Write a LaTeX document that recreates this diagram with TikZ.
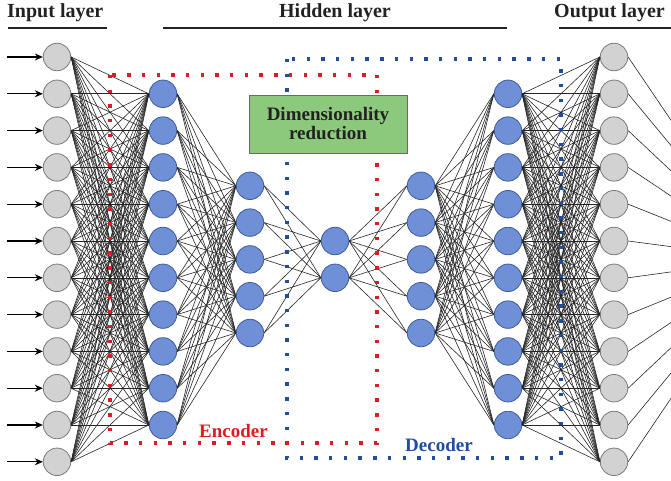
\documentclass[tikz,border=0pt]{standalone}
\usepackage{fontspec}
\setmainfont{Liberation Serif}
\usetikzlibrary{arrows.meta}
\definecolor{nodegray}{HTML}{D2D2D2}
\definecolor{graybd}{HTML}{7A7A7A}
\definecolor{nodeblue}{HTML}{6F8FD6}
\definecolor{bluebd}{HTML}{3E5C9C}
\definecolor{encred}{HTML}{E01A22}
\definecolor{decblue}{HTML}{1F4E9E}
\definecolor{boxgreen}{HTML}{8DC97D}
\definecolor{boxbd}{HTML}{6A6A6A}
\definecolor{titlecol}{HTML}{222222}
\tikzset{
  grayneuron/.style={circle, draw=graybd, fill=nodegray, minimum size=27.5pt, inner sep=0pt, line width=0.8pt},
  blueneuron/.style={circle, draw=bluebd, fill=nodeblue, minimum size=27.5pt, inner sep=0pt, line width=0.8pt},
  conn/.style={line width=0.6pt, draw=black!85},
  inarrow/.style={line width=1.2pt, -{Stealth[length=8pt,width=7pt]}},
  encdots/.style={draw=encred, line width=3.4pt, dash pattern=on 3.4pt off 11.3pt},
  decdots/.style={draw=decblue, line width=3.4pt, dash pattern=on 3.4pt off 11.3pt},
  titletext/.style={font=\fontsize{20}{24}\selectfont\bfseries, text=titlecol, inner sep=0pt, anchor=base west},
  titleline/.style={line width=2pt, draw=titlecol},
  labeltext/.style={font=\fontsize{19}{22}\selectfont\bfseries, inner sep=0pt, anchor=base west},
}
\begin{document}
\begin{tikzpicture}[x=1pt,y=-1pt]
\useasboundingbox (0,0) rectangle (671,481);
\clip (0,0) rectangle (671,481);
\def\sp{36.8}
% input and output layers
\foreach \i in {1,...,12}{
  \node[grayneuron] (in\i) at (57,{57+\sp*(\i-1)}) {};
  \node[grayneuron] (out\i) at (614,{57+\sp*(\i-1)}) {};
}
% hidden layers
\foreach \i in {1,...,10}{
  \node[blueneuron] (ha\i) at (163,{57+\sp*\i}) {};
  \node[blueneuron] (hf\i) at (508,{57+\sp*\i}) {};
}
\foreach \i in {1,...,5}{
  \node[blueneuron] (hb\i) at (250,{259.4+\sp*(\i-3)}) {};
  \node[blueneuron] (he\i) at (421,{259.4+\sp*(\i-3)}) {};
}
\foreach \i in {1,2}{
  \node[blueneuron] (hc\i) at (335,{259.4+\sp*(\i-1.5)}) {};
}
% connections
\foreach \i in {1,...,12}{\foreach \j in {1,...,10}{
  \draw[conn] (in\i.east) -- (ha\j.west);
  \draw[conn] (hf\j.east) -- (out\i.west);
}}
\foreach \i in {1,...,10}{\foreach \j in {1,...,5}{
  \draw[conn] (ha\i.east) -- (hb\j.west);
  \draw[conn] (he\j.east) -- (hf\i.west);
}}
\foreach \i in {1,...,5}{\foreach \j in {1,2}{
  \draw[conn] (hb\i.east) -- (hc\j.west);
  \draw[conn] (hc\j.east) -- (he\i.west);
}}
% input arrows and output lines
\coordinate (sink) at (765,259);
\foreach \i in {1,...,12}{
  \coordinate (src\i) at (7,{57+\sp*(\i-1)});
  \draw[inarrow] (src\i) -- (in\i.west);
  \draw[conn] (out\i.east) -- (sink);
}
% dotted regions
\draw[decdots] (287,59) rectangle (561,458);
\draw[encdots] (110,75) rectangle (377,443);
% green box
\node[draw=boxbd, fill=boxgreen, line width=0.9pt, minimum width=158pt, minimum height=58pt,
      align=center, font=\fontsize{19}{19}\selectfont\bfseries, text=titlecol, inner sep=0pt]
      (dimred) at (328,124) {Dimensionality\\reduction};
% labels
\node[labeltext, text=encred] (enc) at (199,437) {Encoder};
\node[labeltext, text=decblue] (dec) at (405,451) {Decoder};
% titles
\node[titletext] (tin) at (7,18) {Input layer};
\node[titletext, anchor=base] (thid) at (335,18) {Hidden layer};
\node[titletext] (tout) at (554,18) {Output layer};
\draw[titleline] (8,28) -- (107,28);
\draw[titleline] (163,28) -- (507,28);
\draw[titleline] (559,28) -- (671,28);
\end{tikzpicture}
\end{document}
